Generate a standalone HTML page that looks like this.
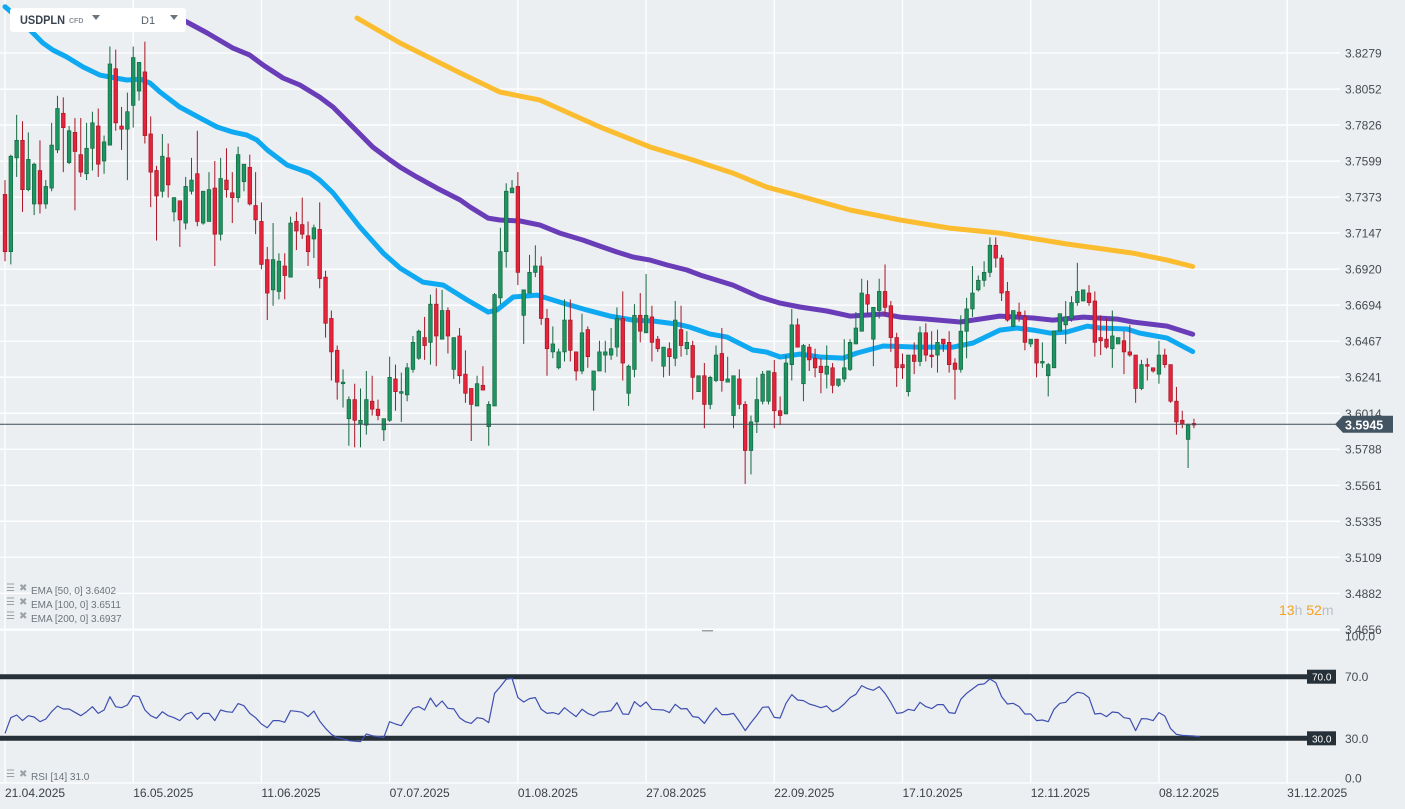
<!DOCTYPE html>
<html><head><meta charset="utf-8"><style>
html,body{margin:0;padding:0;background:#eceff2;}
svg{display:block;font-family:"Liberation Sans",sans-serif;}
</style></head><body>
<svg id="chart" width="1405" height="809" viewBox="0 0 1405 809" xmlns="http://www.w3.org/2000/svg">
<rect x="0" y="0" width="1405" height="809" fill="#eceff2"/>
<g id="grid"></g>
<g id="emas"></g>
<g id="candles"></g>
<g id="rsi"></g>
<g id="axes"></g>
<g>
<rect x="10" y="8" width="176" height="24" rx="3" fill="#ffffff"/>
<text x="20" y="24" font-size="12" font-weight="bold" fill="#37434e" textLength="45" lengthAdjust="spacingAndGlyphs">USDPLN</text>
<text x="69" y="23" font-size="7" font-weight="bold" fill="#8a949c">CFD</text>
<path d="M92 15 L100 15 L96 20 Z" fill="#6b757d"/>
<text x="141" y="24" font-size="11" fill="#555f68">D1</text>
<path d="M170 15 L178 15 L174 20 Z" fill="#6b757d"/>
</g>
<g>
<text x="1279" y="615" font-size="14" fill="#f5a11c">13<tspan fill="#b9bfc4">h</tspan> 52<tspan fill="#b9bfc4">m</tspan></text>
</g>
<g font-size="10" fill="#6c747b">
<g><text x="6" y="591" fill="#9aa1a7">☰</text><text x="19" y="591" fill="#9aa1a7">✖</text><text x="31" y="594">EMA [50, 0] 3.6402</text></g>
<g><text x="6" y="605" fill="#9aa1a7">☰</text><text x="19" y="605" fill="#9aa1a7">✖</text><text x="31" y="608">EMA [100, 0] 3.6511</text></g>
<g><text x="6" y="619" fill="#9aa1a7">☰</text><text x="19" y="619" fill="#9aa1a7">✖</text><text x="31" y="622">EMA [200, 0] 3.6937</text></g>
<g><text x="6" y="777" fill="#9aa1a7">☰</text><text x="19" y="777" fill="#9aa1a7">✖</text><text x="31" y="780">RSI [14] 31.0</text></g>
</g>
<rect x="702" y="630" width="11" height="1.5" fill="#9aa1a7"/>
</svg>
<script>
const priceTicks = ["3.8279","3.8052","3.7826","3.7599","3.7373","3.7147","3.6920","3.6694","3.6467","3.6241","3.6014","3.5788","3.5561","3.5335","3.5109","3.4882","3.4656"];
const dateLabels = ["21.04.2025","16.05.2025","11.06.2025","07.07.2025","01.08.2025","27.08.2025","22.09.2025","17.10.2025","12.11.2025","08.12.2025","31.12.2025"];
const dateIndex = [0,22,44,66,88,110,132,154,176,198,220];
const rsiTicks = [100,70,30,0];
const lastPrice = 3.5945;

const open = [3.739,3.703,3.762,3.773,3.742,3.733,3.754,3.733,3.743,3.767,3.790,3.759,3.778,3.764,3.752,3.768,3.782,3.760,3.770,3.818,3.782,3.780,3.795,3.804,3.816,3.777,3.754,3.741,3.762,3.728,3.735,3.721,3.741,3.752,3.721,3.722,3.743,3.714,3.748,3.740,3.737,3.747,3.756,3.732,3.722,3.698,3.679,3.678,3.694,3.687,3.722,3.720,3.713,3.711,3.717,3.687,3.661,3.641,3.620,3.598,3.610,3.595,3.594,3.609,3.604,3.591,3.597,3.623,
3.614,3.613,3.629,3.636,3.649,3.646,3.670,3.648,3.666,3.629,3.650,3.626,3.617,3.606,3.619,3.593,3.606,3.674,3.703,3.740,3.744,3.663,3.677,3.690,3.694,3.661,3.640,3.630,3.640,3.660,3.640,3.628,3.654,3.616,3.628,3.638,3.638,3.643,3.661,3.614,3.629,3.663,3.652,3.662,3.648,3.631,3.642,3.636,3.654,3.642,3.644,3.615,3.625,3.607,3.622,3.639,3.621,3.600,3.623,3.607,3.578,3.596,3.609,3.609,3.627,3.603,3.601,3.632,3.657,
3.620,3.643,3.636,3.631,3.626,3.630,3.619,3.623,3.629,3.645,3.653,3.676,3.648,3.666,3.678,3.669,3.649,3.632,3.615,3.638,3.634,3.652,3.638,3.638,3.648,3.646,3.633,3.629,3.653,3.667,3.679,3.685,3.690,3.707,3.699,3.678,3.656,3.665,3.662,3.645,3.648,3.633,3.625,3.630,3.653,3.657,3.661,3.671,3.672,3.677,3.672,3.649,3.648,3.642,3.645,3.647,3.640,3.638,3.617,3.632,3.630,3.626,3.638,3.632,3.609,3.597,3.585,3.595];
const high = [3.748,3.764,3.789,3.785,3.778,3.759,3.773,3.748,3.784,3.801,3.800,3.782,3.787,3.787,3.784,3.791,3.793,3.776,3.832,3.830,3.794,3.803,3.832,3.822,3.835,3.788,3.757,3.777,3.771,3.737,3.735,3.750,3.762,3.779,3.741,3.753,3.760,3.762,3.768,3.753,3.769,3.758,3.764,3.753,3.734,3.706,3.721,3.702,3.702,3.725,3.728,3.737,3.722,3.720,3.734,3.691,3.666,3.644,3.629,3.612,3.620,3.617,3.628,3.625,3.610,3.598,3.637,3.632,
3.627,3.633,3.650,3.654,3.662,3.676,3.680,3.679,3.668,3.649,3.655,3.641,3.617,3.625,3.631,3.609,3.677,3.718,3.746,3.748,3.753,3.679,3.701,3.707,3.700,3.667,3.656,3.642,3.673,3.673,3.640,3.664,3.656,3.628,3.647,3.647,3.655,3.668,3.678,3.632,3.670,3.677,3.689,3.669,3.650,3.643,3.646,3.672,3.669,3.653,3.647,3.625,3.633,3.625,3.644,3.655,3.637,3.625,3.629,3.609,3.600,3.624,3.628,3.628,3.635,3.612,3.638,3.667,3.661,
3.645,3.645,3.642,3.636,3.644,3.633,3.623,3.648,3.648,3.665,3.686,3.685,3.668,3.686,3.695,3.672,3.652,3.639,3.638,3.646,3.656,3.658,3.653,3.654,3.648,3.653,3.636,3.663,3.674,3.694,3.688,3.697,3.712,3.712,3.701,3.684,3.666,3.671,3.666,3.648,3.648,3.646,3.633,3.653,3.664,3.672,3.675,3.696,3.679,3.682,3.678,3.663,3.661,3.666,3.649,3.653,3.657,3.638,3.635,3.636,3.630,3.647,3.642,3.632,3.618,3.603,3.595,3.598];
const low = [3.697,3.695,3.750,3.728,3.741,3.726,3.727,3.730,3.741,3.765,3.753,3.758,3.729,3.750,3.748,3.754,3.750,3.752,3.770,3.779,3.767,3.748,3.781,3.798,3.771,3.731,3.710,3.737,3.737,3.722,3.706,3.717,3.739,3.719,3.720,3.722,3.694,3.710,3.737,3.721,3.734,3.741,3.732,3.714,3.692,3.660,3.669,3.673,3.673,3.687,3.704,3.711,3.694,3.699,3.680,3.649,3.622,3.610,3.605,3.581,3.580,3.580,3.588,3.600,3.597,3.584,3.596,3.603,
3.596,3.609,3.627,3.635,3.635,3.632,3.631,3.648,3.639,3.623,3.620,3.608,3.584,3.606,3.616,3.581,3.606,3.670,3.693,3.740,3.682,3.645,3.677,3.687,3.657,3.625,3.636,3.629,3.634,3.634,3.622,3.626,3.630,3.603,3.628,3.627,3.635,3.637,3.622,3.606,3.624,3.646,3.652,3.634,3.640,3.624,3.625,3.631,3.637,3.638,3.610,3.615,3.592,3.604,3.621,3.615,3.621,3.592,3.604,3.557,3.563,3.589,3.607,3.607,3.592,3.594,3.601,3.622,3.643,
3.609,3.628,3.624,3.614,3.617,3.614,3.618,3.621,3.628,3.645,3.653,3.664,3.631,3.661,3.663,3.640,3.618,3.623,3.612,3.626,3.631,3.634,3.630,3.627,3.640,3.627,3.610,3.627,3.636,3.662,3.678,3.681,3.687,3.693,3.672,3.659,3.656,3.659,3.641,3.643,3.624,3.630,3.612,3.630,3.653,3.645,3.659,3.669,3.672,3.669,3.637,3.638,3.642,3.630,3.645,3.626,3.637,3.608,3.616,3.622,3.627,3.620,3.630,3.608,3.588,3.592,3.567,3.592];
const close = [3.703,3.763,3.773,3.742,3.761,3.758,3.733,3.744,3.770,3.793,3.781,3.779,3.766,3.753,3.768,3.784,3.758,3.772,3.821,3.784,3.780,3.791,3.825,3.822,3.776,3.753,3.738,3.763,3.745,3.737,3.723,3.744,3.748,3.722,3.741,3.742,3.714,3.749,3.742,3.737,3.764,3.758,3.733,3.723,3.695,3.677,3.698,3.697,3.688,3.721,3.716,3.714,3.703,3.718,3.686,3.658,3.640,3.621,3.621,3.610,3.597,3.597,3.610,3.604,3.600,3.598,3.624,3.615,
3.615,3.630,3.646,3.653,3.644,3.670,3.650,3.666,3.650,3.649,3.625,3.614,3.607,3.620,3.616,3.607,3.676,3.703,3.741,3.743,3.690,3.679,3.690,3.694,3.661,3.642,3.645,3.640,3.660,3.641,3.628,3.652,3.637,3.628,3.640,3.640,3.642,3.661,3.633,3.631,3.663,3.653,3.663,3.646,3.642,3.643,3.637,3.660,3.644,3.646,3.624,3.625,3.607,3.624,3.638,3.622,3.623,3.625,3.607,3.578,3.596,3.610,3.626,3.628,3.603,3.600,3.633,3.657,3.643,
3.644,3.635,3.630,3.627,3.631,3.619,3.623,3.630,3.646,3.655,3.677,3.670,3.668,3.678,3.668,3.649,3.630,3.630,3.638,3.634,3.652,3.638,3.637,3.646,3.645,3.632,3.629,3.653,3.667,3.677,3.685,3.690,3.707,3.699,3.677,3.660,3.666,3.663,3.646,3.648,3.633,3.634,3.632,3.653,3.664,3.662,3.671,3.678,3.679,3.671,3.646,3.647,3.643,3.650,3.649,3.640,3.638,3.617,3.632,3.631,3.628,3.638,3.632,3.609,3.596,3.595,3.594,3.5945];

const ema50Idx = [0,2.1,6.5,8.2,10.6,13.4,16.3,18,20.9,23.2,24.9,26.6,30,33.5,36.4,39.1,41.5,43.2,45,48.4,52.3,54,56.3,60.9,64.9,67.8,71.7,75.2,79.3,82.9,84.4,87.2,91.3,95.2,99.9,103.8,107.8,111.2,115.3,117.5,121,123.9,128.3,130.7,133,136.4,139.8,143.8,146.2,150.7,156.5,162.7,166.1,170.7,173.6,176.4,179.3,182.2,185.7,187.9,192.5,194.7,199.4,203.8];
const ema50Val = [3.857,3.8505,3.8342,3.8298,3.8254,3.8191,3.8140,3.8128,3.8109,3.8115,3.8090,3.8034,3.7939,3.7870,3.7814,3.7782,3.7763,3.7732,3.7669,3.7575,3.7524,3.7480,3.7399,3.7185,3.7021,3.6927,3.6839,3.6820,3.6726,3.6650,3.6663,3.6745,3.6757,3.6713,3.6663,3.6625,3.6600,3.6594,3.6575,3.6556,3.6512,3.6493,3.6412,3.6399,3.6368,3.6386,3.6368,3.6361,3.6393,3.6437,3.6430,3.6430,3.6456,3.6537,3.6550,3.6537,3.6518,3.6525,3.6562,3.6550,3.6544,3.6518,3.6487,3.6402];
const ema100Idx = [29,31.2,34.7,39.1,42,44.3,47.7,50.6,54,56.3,59.7,63.1,66.1,67.8,70.7,74.1,78.1,79.8,82.9,84.9,88.4,91.8,95.2,99.2,102.1,105,107.8,110.7,113.6,117,119.3,121,124.9,129.5,133,136.4,141,145,150.7,153.6,158.2,163.9,166.1,170.7,176.4,179.8,185,190.8,193.5,199.4,203.8];
const ema100Val = [3.852,3.8474,3.8405,3.8310,3.8266,3.8203,3.8122,3.8078,3.8002,3.7939,3.7814,3.7688,3.7606,3.7562,3.7499,3.7430,3.7355,3.7311,3.7241,3.7229,3.7223,3.7197,3.7147,3.7103,3.7065,3.7028,3.6996,3.6977,3.6946,3.6915,3.6883,3.6864,3.6820,3.6745,3.6707,3.6682,3.6657,3.6625,3.6638,3.6619,3.6606,3.6588,3.6600,3.6625,3.6613,3.6600,3.6619,3.6606,3.6588,3.6562,3.6511];
const ema200Idx = [60.4,67.8,78.1,84.9,91.8,102.1,110.7,118.1,124.9,130.7,136.4,145,153.6,162.1,170.7,182.2,193.5,199.4,203.8];
const ema200Val = [3.8499,3.8342,3.8153,3.8034,3.7983,3.7814,3.7688,3.7606,3.7524,3.7436,3.7380,3.7292,3.7229,3.7178,3.7147,3.7078,3.7021,3.6977,3.6937];

const rsiValues = [33.2,43.4,45.1,41.5,44.7,43.8,40.8,42.5,47.3,51.0,49.0,49.0,46.9,44.7,47.3,50.5,46.2,48.4,57.0,50.5,49.9,51.6,57.7,57.0,48.4,44.7,43.0,47.3,44.7,43.4,41.5,45.6,46.9,42.3,46.2,46.2,41.5,48.4,47.3,46.9,52.5,51.2,46.2,43.4,39.3,36.9,41.5,41.5,40.4,47.9,47.5,46.9,44.1,47.7,41.2,36.5,32.6,30.4,29.6,28.5,28.1,27.8,32.8,31.7,31.1,30.6,40.8,39.3,38.2,44.1,49.5,
50.6,48.4,56.2,50.6,54.2,49.5,49.1,43.4,40.8,39.7,43.4,42.8,40.2,59.2,63.6,68.3,69.0,56.4,53.6,55.8,56.4,48.8,46.2,46.7,45.6,49.9,46.9,44.1,48.8,46.2,44.7,47.1,47.3,48.0,53.2,45.8,45.6,53.8,50.6,53.6,48.8,48.6,48.4,46.7,52.1,49.1,49.3,44.1,43.6,39.7,45.2,49.7,45.4,45.4,46.2,41.0,35.0,40.2,44.9,50.1,50.4,43.6,43.2,52.7,58.4,54.9,54.5,52.3,51.2,49.9,51.0,47.3,49.1,52.3,56.4,58.6,64.2,62.3,61.2,63.6,59.2,53.2,46.2,46.7,48.8,48.0,53.4,50.6,49.3,51.9,51.9,46.7,46.2,55.3,59.2,62.0,64.9,65.3,68.5,66.2,57.1,52.3,52.7,50.6,45.8,45.8,41.5,41.9,40.8,48.8,52.7,53.4,57.5,59.9,59.2,56.4,45.8,46.2,44.1,47.1,46.7,43.4,42.8,35.0,42.8,42.6,41.5,46.7,44.5,36.3,32.6,31.9,31.7,31.5,31.0];

const NS = "http://www.w3.org/2000/svg";
const X0 = 5, DX = 5.828;
function xOf(i){ return X0 + i*DX; }
function yP(p){ return 53 + (3.8279 - p)*1590.7; }
function yR(v){ return 738.3 - (v-30)*1.54; }
function mk(tag, attrs, parent){ const e=document.createElementNS(NS,tag); for(const k in attrs) e.setAttribute(k,attrs[k]); parent.appendChild(e); return e; }

const grid = document.getElementById('grid');
const axes = document.getElementById('axes');
priceTicks.forEach(t=>{
  const y = yP(parseFloat(t));
  const l = mk('line',{x1:0,x2:1340,y1:y,y2:y,stroke:'#ffffff','stroke-width':1.3},grid);
  
  
  const tx = mk('text',{x:1345,y:y+4.5,'font-size':12,fill:'#464c52'},axes);
  tx.textContent = t;
  
  
});
[630,783].forEach(y=>{
  const l = mk('line',{x1:0,x2:1340,y1:y,y2:y,stroke:'#ffffff','stroke-width':1.3},grid);
  
  
});
dateLabels.forEach((d,k)=>{
  const x = xOf(dateIndex[k]);
  const l = mk('line',{x1:x,x2:x,y1:0,y2:783,stroke:'#ffffff','stroke-width':1.3},grid);
  
  
  const tx = mk('text',{x:x,y:797,'font-size':12,fill:'#3a4046'},axes);
  tx.textContent = d;
  
  
});

const emas = document.getElementById('emas');
function emaPath(idx, val, color, name){
  let d='';
  idx.forEach((i,k)=>{ d += (k?'L':'M') + xOf(i).toFixed(1)+' '+yP(val[k]).toFixed(1)+' '; });
  const p = mk('path',{d:d,fill:'none',stroke:color,'stroke-width':5,'stroke-linejoin':'round','stroke-linecap':'round'},emas);
  
  
}
emaPath(ema200Idx, ema200Val, '#fbbd2f', 'ema-200-line');
emaPath(ema100Idx, ema100Val, '#6a3db8', 'ema-100-line');
emaPath(ema50Idx, ema50Val, '#0fa9f2', 'ema-50-line');

const cg = document.getElementById('candles');
for(let i=0;i<close.length;i++){
  const up = close[i] >= open[i];
  const fill = up ? '#1d9461' : '#e4243a';
  const edge = up ? '#14683f' : '#a81424';
  const x = xOf(i);
  const w = mk('line',{x1:x,x2:x,y1:yP(high[i]),y2:yP(low[i]),stroke:edge,'stroke-width':1},cg);
  
  
  const yt = yP(Math.max(open[i],close[i])), yb = yP(Math.min(open[i],close[i]));
  const b = mk('rect',{x:x-1.8,y:yt,width:3.6,height:Math.max(1.5,yb-yt),fill:fill,stroke:edge,'stroke-width':0.7},cg);
  
  
}
const yl = yP(lastPrice);
const pl = mk('line',{x1:0,x2:1340,y1:yl,y2:yl,stroke:'#3f4b55','stroke-width':1},axes);


const tag = mk('path',{d:`M1335 ${yl} L1343 ${yl-8.5} L1393 ${yl-8.5} L1393 ${yl+8.5} L1343 ${yl+8.5} Z`,fill:'#435562'},axes);


const tt = mk('text',{x:1345,y:yl+5,'font-size':12.5,'font-weight':'bold',fill:'#ffffff'},axes);
tt.textContent = lastPrice.toFixed(4);



const rg = document.getElementById('rsi');
[70,30].forEach(v=>{
  const y = yR(v);
  const l = mk('line',{x1:0,x2:1308,y1:y,y2:y,stroke:'#263038','stroke-width':5},rg);
  
  
  const bx = mk('rect',{x:1307,y:y-7,width:29,height:14,fill:'#263038'},rg);
  
  
  const t = mk('text',{x:1312,y:y+4,'font-size':10,fill:'#ffffff'},rg);
  t.textContent = v.toFixed(1);
  
  
});
let rd='';
rsiValues.forEach((v,i)=>{ rd += (i?'L':'M') + xOf(i).toFixed(1)+' '+yR(v).toFixed(1)+' '; });
const rl = mk('path',{d:rd,fill:'none',stroke:'#3e4fb0','stroke-width':1.2,'stroke-linejoin':'round'},rg);


rsiTicks.forEach(v=>{
  let y = yR(v);
  if(v===100) y = 636;
  if(v===0) y = 778;
  const t = mk('text',{x:1345,y:y+4.5,'font-size':12,fill:'#464c52'},axes);
  t.textContent = v.toFixed(1);
  
  
});
</script>
</body></html>
